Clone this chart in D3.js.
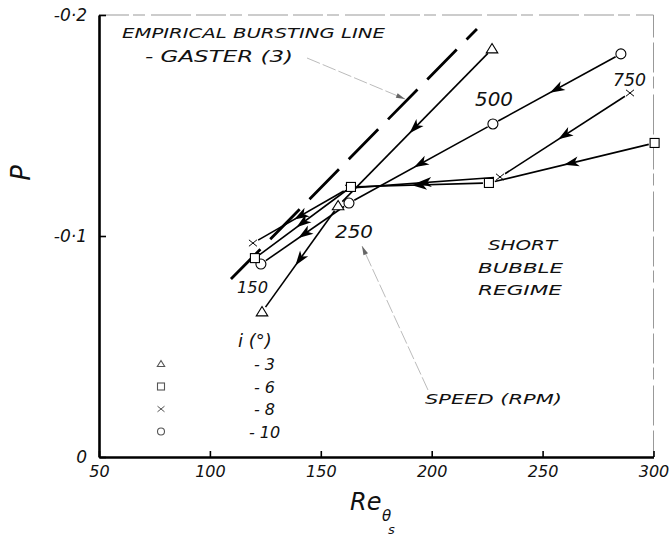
<!DOCTYPE html>
<html>
<head>
<meta charset="utf-8">
<script src="https://cdn.jsdelivr.net/npm/d3@7"></script>
<style>
  body { margin: 0; background: #fff; }
  svg { display: block; }
  text { font-family: "DejaVu Sans", sans-serif; font-style: italic; fill: #111; }
</style>
</head>
<body>
<script>
// values: Re_theta_s vs P, speeds 750 -> 150 rpm
const triRe = [227.2, 157.8, 123.5];
const triP = [-0.1846, -0.1136, -0.0656];
const sqRe = [300.5, 225.8, 163.6, 120.3];
const sqP = [-0.1421, -0.1240, -0.1222, -0.0900];
const crossRe = [289.4, 230.8, 162.7, 119.4];
const crossP = [-0.1647, -0.1267, -0.1217, -0.0968];
const circRe = [285.3, 227.6, 162.7, 123.0];
const circP = [-0.1824, -0.1507, -0.1149, -0.0873];
// empirical bursting line (Gaster)
const burstRe = [109.5, 220.4];
const burstP = [-0.0805, -0.1937];

const xTicks = [50, 100, 150, 200, 250, 300];
const yTicks = [0, -0.1, -0.2];
const yTickLabels = ['0', '-0·1', '-0·2'];
const legendLabels = ['- 3', '- 6', '- 8', '- 10'];
const legendShapes = ['tri', 'sq', 'cross', 'circ'];

const W = 672, H = 536;
const svg = d3.select('body').append('svg').attr('width', W).attr('height', H);

const x = d3.scaleLinear().domain([50, 300]).range([99, 653.5]);
const y = d3.scaleLinear().domain([0, -0.2]).range([457, 15]);

// light frame top/right
svg.append('path')
  .attr('d', `M${x(50)},${y(-0.2)}H${x(300)}V${y(0)}`)
  .attr('fill', 'none').attr('stroke', '#999').attr('stroke-width', 1)
  .attr('stroke-dasharray', '30,4,12,6,40,5');

// axes
const xAxis = d3.axisBottom(x).tickValues(xTicks).tickSize(-6).tickSizeOuter(0).tickPadding(8);
const gx = svg.append('g').attr('transform', `translate(0,${y(0)})`).call(xAxis);
gx.select('.domain').attr('stroke-width', 2.6).attr('stroke', '#000');
gx.selectAll('.tick line').attr('stroke-width', 1.6).attr('stroke', '#000');
gx.selectAll('.tick text').attr('font-size', 16).attr('font-family', 'DejaVu Sans')
  .attr('font-style', 'italic').attr('fill', '#111').attr('dy', '0.75em');

const yAxis = d3.axisLeft(y).tickValues(yTicks).tickSize(-7).tickSizeOuter(0).tickPadding(12)
  .tickFormat((d, i) => yTickLabels[i]);
const gy = svg.append('g').attr('transform', `translate(${x(50)},0)`).call(yAxis);
gy.select('.domain').attr('stroke-width', 2.6).attr('stroke', '#000');
gy.selectAll('.tick line').attr('stroke-width', 1.6).attr('stroke', '#000');
gy.selectAll('.tick text').attr('font-size', 17).attr('font-family', 'DejaVu Sans')
  .attr('font-style', 'italic').attr('fill', '#111');

// axis titles
svg.append('text').attr('transform', 'translate(30,173) rotate(-90)')
  .attr('text-anchor', 'middle').attr('font-size', 26).text('P');
svg.append('text').attr('x', 350).attr('y', 510).attr('font-size', 24).text('Re');
svg.append('text').attr('x', 382).attr('y', 521).attr('font-size', 15).text('θ');
svg.append('text').attr('x', 388).attr('y', 534).attr('font-size', 13).text('s');

// bursting line
svg.append('line')
  .attr('x1', x(burstRe[0])).attr('y1', y(burstP[0]))
  .attr('x2', x(burstRe[1])).attr('y2', y(burstP[1]))
  .attr('stroke', '#000').attr('stroke-width', 2.8).attr('stroke-dasharray', '42,14');

// connecting lines with mid arrows
function drawSeries(re, p) {
  const pts = re.map((v, i) => [x(v), y(p[i])]);
  for (let i = 0; i < pts.length - 1; i++) {
    const [x1, y1] = pts[i], [x2, y2] = pts[i + 1];
    const dx = x2 - x1, dy = y2 - y1, len = Math.hypot(dx, dy);
    const ux = dx / len, uy = dy / len, gap = 6;
    svg.append('line')
      .attr('x1', x1 + ux * gap).attr('y1', y1 + uy * gap)
      .attr('x2', x2 - ux * gap).attr('y2', y2 - uy * gap)
      .attr('stroke', '#000').attr('stroke-width', 1.6);
    const ang = Math.atan2(dy, dx) * 180 / Math.PI;
    svg.append('path')
      .attr('d', 'M8,0L-7,-5L-3,0L-7,5Z')
      .attr('transform', `translate(${(x1 + x2) / 2},${(y1 + y2) / 2}) rotate(${ang})`)
      .attr('fill', '#000');
  }
}
drawSeries(triRe, triP);
drawSeries(circRe, circP);
drawSeries(crossRe, crossP);
drawSeries(sqRe, sqP);

function marker(g, shape, cx, cy, s, col) {
  const c = col || '#000';
  if (shape === 'tri') {
    g.append('path').attr('d', `M${cx},${cy - s}L${cx + s * 1.05},${cy + s * 0.7}L${cx - s * 1.05},${cy + s * 0.7}Z`)
      .attr('fill', '#fff').attr('stroke', c).attr('stroke-width', 1.1);
  } else if (shape === 'sq') {
    g.append('rect').attr('x', cx - s).attr('y', cy - s).attr('width', 2 * s).attr('height', 2 * s)
      .attr('fill', '#fff').attr('stroke', c).attr('stroke-width', 1.1);
  } else if (shape === 'circ') {
    g.append('circle').attr('cx', cx).attr('cy', cy).attr('r', s)
      .attr('fill', '#fff').attr('stroke', c).attr('stroke-width', 1.1);
  } else {
    g.append('path').attr('d', `M${cx - s},${cy - s * 0.8}L${cx + s},${cy + s * 0.8}M${cx - s},${cy + s * 0.8}L${cx + s},${cy - s * 0.8}`)
      .attr('stroke', c).attr('stroke-width', 1);
  }
}
const gm = svg.append('g');
crossRe.forEach((v, i) => marker(gm, 'cross', x(v), y(crossP[i]), 4));
circRe.forEach((v, i) => marker(gm, 'circ', x(v), y(circP[i]), 5));
triRe.forEach((v, i) => marker(gm, 'tri', x(v), y(triP[i]), 5.5));
sqRe.forEach((v, i) => marker(gm, 'sq', x(v), y(sqP[i]), 4.5));

// legend
svg.append('text').attr('x', 238).attr('y', 347).attr('font-size', 18).text('i (°)');
legendShapes.forEach((s, i) => {
  const cy = 364 + i * 22.5;
  marker(gm, s, 161, cy, 3.5, '#555');
  svg.append('text').attr('x', i === 3 ? 249 : 254).attr('y', cy + 6)
    .attr('font-size', 16).text(legendLabels[i]);
});

// annotations
function label(t, x0, yb, size, len) {
  const el = svg.append('text').attr('x', x0).attr('y', yb).attr('font-size', size).text(t);
  if (len) el.attr('textLength', len).attr('lengthAdjust', 'spacingAndGlyphs');
}
label('EMPIRICAL BURSTING LINE', 122, 38, 14, 263);
label('- GASTER (3)', 145, 62, 15, 148);
label('500', 475, 106, 19, 38);
label('750', 613, 86, 18, 33);
label('250', 335, 238, 17, 38);
label('150', 237, 293, 16, 31);
label('SHORT', 488, 250, 14, 69);
label('BUBBLE', 478, 273, 14, 85);
label('REGIME', 478, 295, 14, 84);
label('SPEED (RPM)', 425, 404, 14, 137);

// leader lines
function leader(x1, y1, x2, y2) {
  svg.append('line').attr('x1', x1).attr('y1', y1).attr('x2', x2).attr('y2', y2)
    .attr('stroke', '#aaa').attr('stroke-width', 0.8).attr('stroke-dasharray', '14,3');
  const ang = Math.atan2(y2 - y1, x2 - x1) * 180 / Math.PI;
  svg.append('path').attr('d', 'M0,0L-9,-2.5L-9,2.5Z')
    .attr('transform', `translate(${x2},${y2}) rotate(${ang})`).attr('fill', '#666');
}
leader(307, 58, 405, 99);
leader(428, 390, 362, 246);
</script>
</body>
</html>
